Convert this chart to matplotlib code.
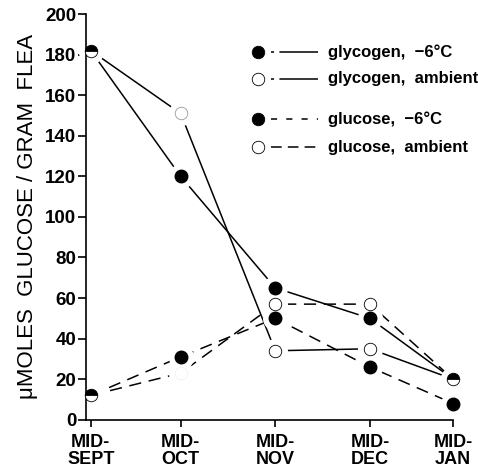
import matplotlib
matplotlib.use("Agg")
import matplotlib.pyplot as plt

plt.rcParams['font.family'] = ['Liberation Sans', 'DejaVu Sans']

# x categories
months = ["MID-\nSEPT", "MID-\nOCT", "MID-\nNOV", "MID-\nDEC", "MID-\nJAN"]
x_pos = [0.05, 1, 2, 3, 3.88]

# umoles glucose / gram flea
glycogen_cold = [182, 120, 65, 50, 20]
glycogen_amb = [182, 151, 34, 35, 20]
glucose_cold = [12, 31, 50, 26, 8]
glucose_amb = [12, 23, 57, 57, 20]

fig = plt.figure(figsize=(4.78, 4.69), dpi=100)
ax = fig.add_axes([0.18, 0.105, 0.768, 0.865])

dash = (8, 5)
ax.plot(x_pos, glycogen_cold, color='black', lw=1.1, zorder=1)
ax.plot(x_pos, glycogen_amb, color='black', lw=1.1, zorder=1)
ax.plot(x_pos, glucose_cold, color='black', lw=1.1, dashes=dash, zorder=1)
ax.plot(x_pos, glucose_amb, color='black', lw=1.1, dashes=dash, zorder=1)

# white halos so the lines stop short of the circles
for series in [glycogen_cold, glycogen_amb, glucose_cold, glucose_amb]:
    ax.plot(x_pos, series, ls='none', marker='o', ms=17, mfc='white',
            mec='white', zorder=2, clip_on=False)

# markers
ax.plot(x_pos[1:4], glycogen_cold[1:4], ls='none', marker='o', ms=9,
        mfc='black', mec='black', zorder=3)
ax.plot(x_pos[1:4], glucose_cold[1:4], ls='none', marker='o', ms=9,
        mfc='black', mec='black', zorder=3)
ax.plot(x_pos[2:4], glycogen_amb[2:4], ls='none', marker='o', ms=9,
        mfc='white', mec='black', mew=0.6, zorder=3)
ax.plot([x_pos[1]], [glycogen_amb[1]], ls='none', marker='o', ms=9,
        mfc='white', mec='#999999', mew=0.6, zorder=3)
ax.plot(x_pos[2:4], glucose_amb[2:4], ls='none', marker='o', ms=9,
        mfc='white', mec='black', mew=0.6, zorder=3)
ax.plot([x_pos[1]], [glucose_amb[1]], ls='none', marker='o', ms=9,
        mfc='white', mec='#eeeeee', mew=0.5, zorder=3)
# shared points drawn half filled
ax.plot([x_pos[0], x_pos[0], x_pos[4]],
        [glycogen_cold[0], glucose_cold[0], glycogen_cold[4]],
        ls='none', marker='o', ms=9, fillstyle='top', mfc='black',
        mfcalt='white', mec='black', mew=0.6, zorder=3, clip_on=False)
ax.plot([x_pos[4]], [glucose_cold[4]], ls='none', marker='o', ms=9,
        mfc='black', mec='black', zorder=3, clip_on=False)

# legend drawn by hand (marker, then line, then text)
legend_rows = [
    ('black', (2, 3.5, 30, 5), "glycogen,  \u22126\u00b0C", 0.906),
    ('white', (2, 3.5, 30, 5), "glycogen,  ambient", 0.840),
    ('black', (4, 6), "glucose,  \u22126\u00b0C", 0.741),
    ('white', (7, 4), "glucose,  ambient", 0.672),
]
for face, dashes, label, yy in legend_rows:
    ax.plot([0.469], [yy], transform=ax.transAxes, marker='o', ms=9,
            mfc=face, mec='black', mew=0.6, clip_on=False)
    ax.plot([0.505, 0.632], [yy, yy], transform=ax.transAxes, color='black',
            lw=1.1, dashes=dashes, clip_on=False)
    ax.text(0.659, yy, label, transform=ax.transAxes, fontsize=12,
            fontweight='bold', va='center', ha='left')

ax.set_ylim(0, 200)
ax.set_xlim(0, 3.88)
ax.set_yticks(range(0, 201, 20))
ax.set_xticks(x_pos)
ax.set_xticklabels(months, fontsize=13, fontweight='bold', linespacing=1.0)
for lab in ax.get_yticklabels():
    lab.set_fontweight('bold')
    lab.set_fontsize(13.5)

ax.spines['top'].set_visible(False)
ax.spines['right'].set_visible(False)
ax.spines['left'].set_linewidth(1.2)
ax.spines['bottom'].set_linewidth(1.2)
ax.tick_params(axis='y', direction='out', length=6, width=1.2, pad=1)
ax.tick_params(axis='x', direction='out', length=5, width=1.2, pad=5)

ax.set_ylabel("\u03bcMOLES  GLUCOSE / GRAM  FLEA", fontsize=16, labelpad=5)

fig.savefig("out.png", dpi=100)
